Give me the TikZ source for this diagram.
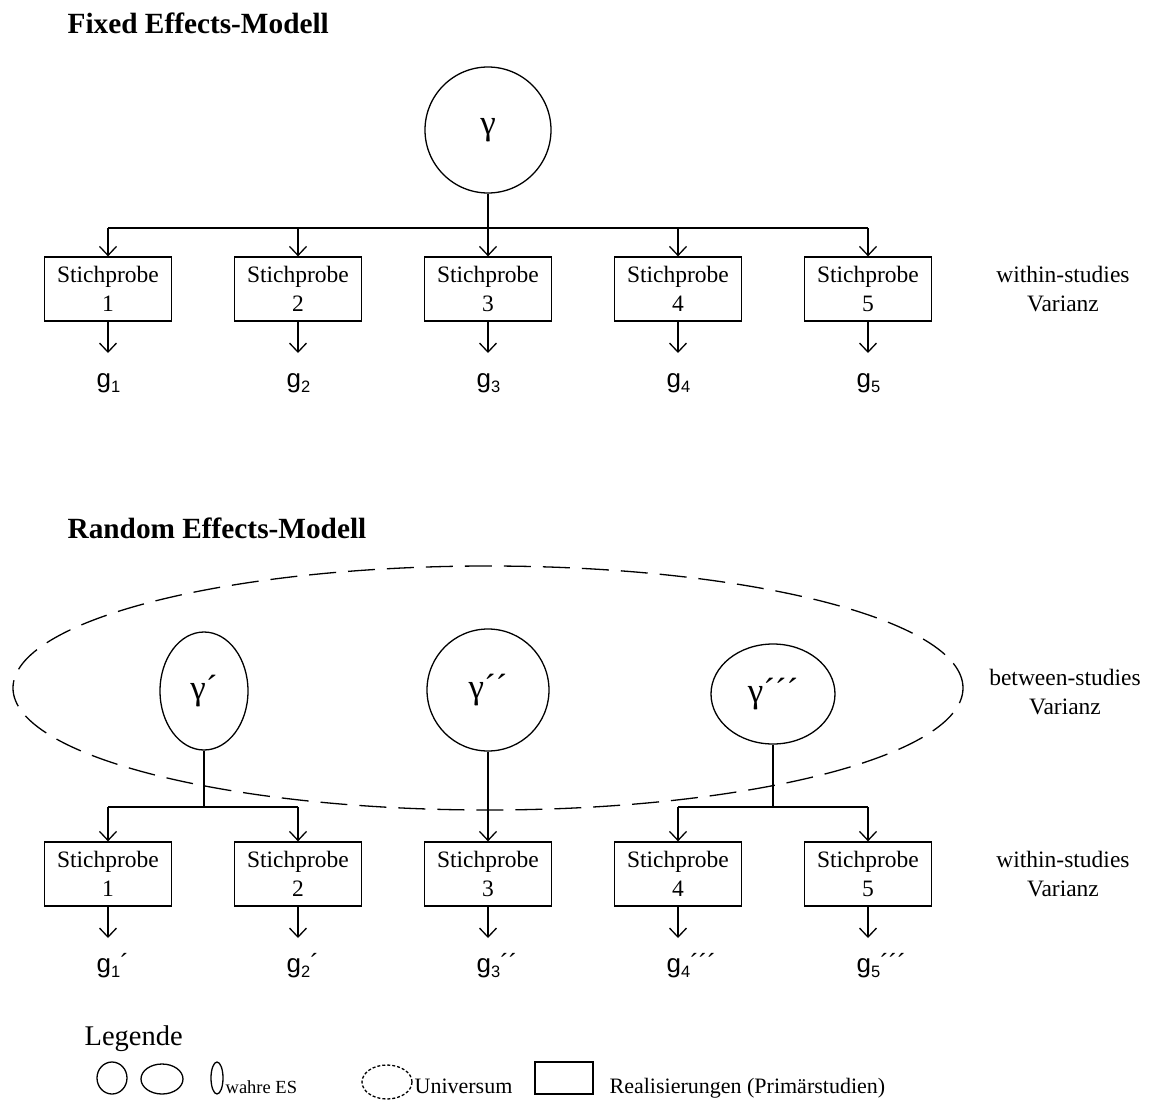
\documentclass[tikz,border=0pt]{standalone}
\usepackage{fontspec}
\setmainfont{Liberation Serif}
\newfontfamily\sansf{Liberation Sans}
\usetikzlibrary{arrows.meta,shapes.geometric}
\newcommand\gsub[2]{g\raisebox{-0.22em}{\fontsize{16.5}{16.5}\selectfont #1}#2}
\begin{document}
\begin{tikzpicture}[x=1pt,y=-1pt, line width=1.3pt,
  box/.style={draw, minimum width=127pt, minimum height=64pt, inner sep=0pt, align=center, font=\fontsize{23.5}{29}\selectfont},
  arr/.style={-{Straight Barb[length=9pt,width=17pt]}},
  lbl/.style={align=center, inner sep=0pt, font=\fontsize{23.5}{29}\selectfont},
  gl/.style={anchor=base west, inner sep=0pt, font=\sansf\fontsize{26}{30}\selectfont},
  gam/.style={draw, inner sep=0pt, font=\fontsize{35}{35}\selectfont},
  ttl/.style={anchor=base west, inner sep=0pt, font=\bfseries\fontsize{29.3}{32}\selectfont},
  legtxt/.style={anchor=base west, inner sep=0pt, font=\fontsize{22}{26}\selectfont},
  univ/.style={draw, ellipse, inner sep=0pt, dash pattern=on 27pt off 12pt},
]
\useasboundingbox (0,0) rectangle (1157,1100);

% ---------------- Fixed effects ----------------
\node[ttl] (t1) at (67,33) {Fixed Effects-Modell};
\node[gam, circle, minimum size=126pt] (G) at (488,130) {γ};
\foreach \i/\x in {1/108,2/298,3/488,4/678,5/868}{
  \coordinate (fb\i) at (\x,228);
  \node[box] (fs\i) at (\x,289) {Stichprobe\\\i};
  \coordinate (ft\i) at (\x,353);
  \draw[arr] (fb\i) -- (fs\i.north);
  \draw[arr] (fs\i.south) -- (ft\i);
}
\draw (G.south) -- (fb3);
\draw (fb1) -- (fb5);
\node[gl] (fg1) at (96,387) {\gsub{1}{}};
\node[gl] (fg2) at (286,387) {\gsub{2}{}};
\node[gl] (fg3) at (476,387) {\gsub{3}{}};
\node[gl] (fg4) at (666,387) {\gsub{4}{}};
\node[gl] (fg5) at (856,387) {\gsub{5}{}};
\node[lbl] (fw) at (1063,289) {within-studies\\Varianz};

% ---------------- Random effects ----------------
\node[ttl] (t2) at (67,538) {Random Effects-Modell};
\node[univ, minimum width=950pt, minimum height=244pt] (U) at (488,688) {};
\node[gam, ellipse, minimum width=88pt, minimum height=118pt] (R1) at (204,691) {γ´};
\node[gam, circle, minimum size=122pt] (R2) at (488,690) {γ´´};
\node[gam, ellipse, minimum width=124pt, minimum height=100pt] (R3) at (773,694) {γ´´´};
\foreach \i/\x in {1/108,2/298,3/488,4/678,5/868}{
  \node[box] (rs\i) at (\x,874) {Stichprobe\\\i};
  \coordinate (rt\i) at (\x,938);
  \draw[arr] (rs\i.south) -- (rt\i);
}
\coordinate (rb1) at (108,807);
\coordinate (rb2) at (298,807);
\coordinate (rb4) at (678,807);
\coordinate (rb5) at (868,807);
\draw (R1.south) -- (R1.south |- rb1);
\draw (rb1) -- (rb2);
\draw[arr] (rb1) -- (rs1.north);
\draw[arr] (rb2) -- (rs2.north);
\draw[arr] (R2.south) -- (rs3.north);
\draw (R3.south) -- (R3.south |- rb4);
\draw (rb4) -- (rb5);
\draw[arr] (rb4) -- (rs4.north);
\draw[arr] (rb5) -- (rs5.north);
\node[gl] (rg1) at (96,972) {\gsub{1}{´}};
\node[gl] (rg2) at (286,972) {\gsub{2}{´}};
\node[gl] (rg3) at (476,972) {\gsub{3}{´´}};
\node[gl] (rg4) at (666,972) {\gsub{4}{´´´}};
\node[gl] (rg5) at (856,972) {\gsub{5}{´´´}};
\node[lbl] (rw) at (1063,874) {within-studies\\Varianz};
\node[lbl] (rbv) at (1065,692) {between-studies\\Varianz};

% ---------------- Legend ----------------
\node[anchor=base west, inner sep=0pt, font=\fontsize{28.5}{32}\selectfont] (leg) at (84,1045) {Legende};
\node[draw, ellipse, inner sep=0pt, minimum width=30pt, minimum height=32pt] (l1) at (112,1078) {};
\node[draw, ellipse, inner sep=0pt, minimum width=42pt, minimum height=30pt] (l2) at (162,1079) {};
\node[draw, ellipse, inner sep=0pt, minimum width=12pt, minimum height=32pt] (l3) at (217,1078) {};
\node[legtxt, font=\fontsize{18.5}{22}\selectfont] (lt1) at (225,1093) {wahre ES};
\node[draw, ellipse, inner sep=0pt, minimum width=50pt, minimum height=34pt, dash pattern=on 3pt off 2pt] (l4) at (387,1082) {};
\node[legtxt] (lt2) at (414,1093) {Universum};
\node[draw, inner sep=0pt, minimum width=58pt, minimum height=32pt] (l5) at (564,1078) {};
\node[legtxt] (lt3) at (609,1093) {Realisierungen (Primärstudien)};
\end{tikzpicture}
\end{document}
